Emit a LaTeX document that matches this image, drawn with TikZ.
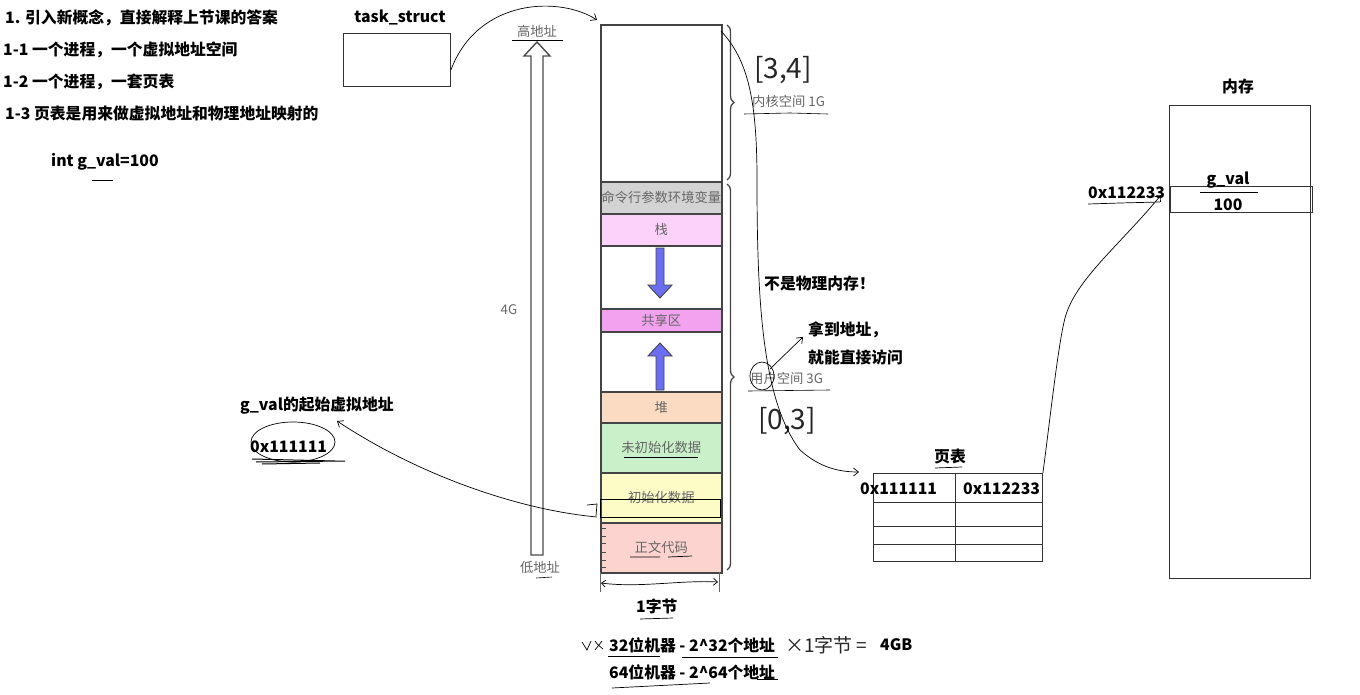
\documentclass[tikz,border=0pt]{standalone}
\usepackage{fontspec}
\setmainfont{Noto Sans CJK SC}
\usetikzlibrary{arrows.meta,decorations.pathreplacing,calc}
\definecolor{segline}{HTML}{444444}
\definecolor{cmdgray}{HTML}{D3D3D3}
\definecolor{stackpink}{HTML}{FCD2FA}
\definecolor{sharepink}{HTML}{F3A2F0}
\definecolor{heapc}{HTML}{FBDCC2}
\definecolor{uninitc}{HTML}{C9F0C9}
\definecolor{initc}{HTML}{FDFCC6}
\definecolor{textc}{HTML}{FDD3CF}
\definecolor{bluearr}{HTML}{6B6EF2}
\definecolor{graytxt}{HTML}{666666}
\begin{document}
\begin{tikzpicture}[x=1pt,y=-1pt,
  btxt/.style={font=\bfseries\fontsize{15.8}{18}\selectfont, inner sep=0pt, anchor=west},
  gtxt/.style={font=\fontsize{13.3}{15}\selectfont, text=graytxt, inner sep=0pt},
  seg/.style={draw=segline, line width=1.6pt, minimum width=121pt, anchor=north west, inner sep=0pt,
              font=\fontsize{13.3}{15}\selectfont, text=graytxt},
  hand/.style={line width=0.7pt, black},
  handarr/.style={line width=0.7pt, black, -{Straight Barb[length=5pt,width=8pt]}},
  htxt/.style={font=\fontsize{28}{30}\selectfont, inner sep=0pt, text=black!85},
  brace/.style={decorate, decoration={brace, amplitude=7pt}, line width=1.3pt, segline},
  box/.style={draw=black!80, line width=0.9pt, anchor=north west, inner sep=0pt}
]
\useasboundingbox[fill=white] (0,0) rectangle (1360,695);

% top-left texts
\node[btxt] (t1) at (5,18) {1. 引入新概念，直接解释上节课的答案};
\node[btxt] (t2) at (3,50) {1-1 一个进程，一个虚拟地址空间};
\node[btxt] (t3) at (3,82) {1-2 一个进程，一套页表};
\node[btxt] (t4) at (5,114) {1-3 页表是用来做虚拟地址和物理地址映射的};
\node[btxt] (t5) at (51,162) {int g\_val=100};
\draw[hand] (92,180) -- (113,180);

% task_struct
\node[btxt, anchor=center] (tsl) at (400,17) {task\_struct};
\node[box, minimum width=107pt, minimum height=53pt] (ts) at (343,33) {};

% column
\node[seg, minimum height=157pt] (kern) at (600,24) {};
\node[seg, minimum height=32pt, fill=cmdgray] (cmd) at (600,181) {命令行参数环境变量};
\node[seg, minimum height=32pt, fill=stackpink] (stk) at (600,213) {栈};
\node[seg, minimum height=63pt] (gap1) at (600,245) {};
\node[seg, minimum height=23pt, fill=sharepink] (shr) at (600,308) {共享区};
\node[seg, minimum height=60pt] (gap2) at (600,331) {};
\node[seg, minimum height=31pt, fill=heapc] (heap) at (600,391) {堆};
\node[seg, minimum height=50pt, fill=uninitc] (bss) at (600,422) {未初始化数据};
\node[seg, minimum height=50pt, fill=initc] (data) at (600,472) {初始化数据};
\node[seg, minimum height=50pt, fill=textc] (code) at (600,522) {正文代码};
\draw[line width=0.9pt, black] (600,499) rectangle (720,517);
\foreach \yy in {528,536,543,552,560,567} \draw[line width=0.5pt, black!70] (601,\yy) -- (606,\yy);
\draw[hand] (624,457) -- (698,457);
\draw[hand] (630,557) -- (660,557) (668,557) -- (692,556);

% blue arrows
\draw[fill=bluearr, draw=segline, line width=0.9pt] (656,248) -- (664,248) -- (664,285) -- (672,285) -- (660,298) -- (648,285) -- (656,285) -- cycle;
\draw[fill=bluearr, draw=segline, line width=0.9pt] (656,390) -- (664,390) -- (664,356) -- (672,356) -- (660,343) -- (648,356) -- (656,356) -- cycle;

% hollow address arrow
\draw[line width=1.4pt, black!70, fill=white] (531,555) -- (531,56) -- (524,56) -- (537,42) -- (550,56) -- (543,56) -- (543,555) -- cycle;
\node[gtxt] (hi) at (537,31) {高地址};
\draw[line width=0.6pt, black] (512,40) -- (563,40);
\node[gtxt] (lo) at (540,567) {低地址};
\draw[line width=0.6pt, black] (536,578) -- (552,577);
\node[gtxt] (g4) at (509,310) {4G};

% braces
\draw[brace] (727,25) -- (727,180);
\draw[brace] (727,184) -- (727,570);
\node[gtxt, anchor=west] (kl) at (752,101) {内核空间 1G};
\draw[line width=0.6pt, black] (744,114) -- (790,113) -- (828,114);
\node[gtxt, anchor=west] (ul) at (750,378) {用户空间 3G};
\draw[line width=0.6pt, black] (748,391) -- (830,390);
\draw[hand] (762,376) ellipse [x radius=12, y radius=14];

% handwritten ranges
\node[htxt] (r34) at (783,70) {[3,4]};
\node[htxt] (r03) at (787,421) {[0,3]};

% right-side notes
\node[btxt] (np) at (764,284) {不是物理内存！};
\node[btxt] (n1) at (808,330) {拿到地址，};
\node[btxt] (n2) at (808,357) {就能直接访问};
\coordinate (ua) at (770,369);
\coordinate (ub) at (803,337);
\draw[handarr] (ua) -- (ub);

% below column
\draw[line width=0.5pt, black!60] (600,572) -- (600,592) (719,572) -- (719,592);
\coordinate (wl) at (601,583);
\coordinate (wr) at (718,582);
\draw[hand, {Straight Barb[length=4pt,width=7pt]}-{Straight Barb[length=4pt,width=7pt]}] (wl) .. controls (640,588) and (680,580) .. (wr);
\node[btxt] (b1) at (636,606) {1字节};
\draw[hand] (640,619) -- (673,618);
\node[btxt] (l32) at (609,645) {32位机器 - 2\textasciicircum32个地址};
\node[btxt] (l64) at (609,672) {64位机器 - 2\textasciicircum64个地址};
\draw[hand] (608,656) -- (660,656);
\draw[hand] (682,657) -- (778,657);
\draw[hand] (757,679) -- (778,679);
\draw[hand] (612,688) -- (710,683);
\draw[hand] (582,642) -- (587,650) -- (591,641);
\draw[hand] (595,641) .. controls (598,645) .. (603,649) (595,650) -- (602,641);
\node[font=\fontsize{19}{21}\selectfont, inner sep=0pt, anchor=west, text=black!85] (hw) at (785,645) {×1字节 =};
\node[btxt] (g4b) at (880,645) {4GB};

% left g_val
\node[btxt] (gl) at (240,406) {g\_val的起始虚拟地址};
\node[btxt] (ga) at (250,447) {0x111111};
\draw[hand] (293,442) ellipse [x radius=42, y radius=20];
\draw[line width=1pt, black] (252,459) -- (335,461) (256,462) -- (345,461) (262,464) -- (320,463);
\coordinate (hk) at (597,517);
\coordinate (gt) at (337,421);
\draw[hand] (587,505) -- (597,504) -- (596,516);
\draw[handarr] (hk) .. controls (520,510) and (420,476) .. (gt);

% task_struct arrow
\draw[handarr] ([yshift=-10pt]ts.east) .. controls (478,-2) and (560,-4) .. ([xshift=-3pt,yshift=4pt]kern.north west);

% page table
\node[btxt, anchor=center] (ptl) at (950,457) {页表};
\draw[hand] (935,468) -- (962,467);
\node[box, minimum width=169pt, minimum height=88pt] (pt) at (873,473) {};
\draw[line width=0.9pt, black!80] (873,502) -- (1042,502) (873,526) -- (1042,526) (873,544) -- (1042,544) (955,473) -- (955,561);
\node[btxt] (pv) at (860,489) {0x111111};
\node[btxt] (pp) at (963,489) {0x112233};

% long curve virtual -> page table
\coordinate (ks) at (721,31);
\coordinate (pe) at (859,472);
\draw[handarr] (ks) .. controls (748,60) and (757,100) .. (757,180) .. controls (757,300) and (762,400) .. (800,450) .. controls (820,468) and (840,472) .. (pe);

% memory
\node[btxt, anchor=center] (meml) at (1238,87) {内存};
\node[box, minimum width=141pt, minimum height=473pt] (mem) at (1169,105) {};
\node[box, minimum width=142pt, minimum height=26pt] (cell) at (1170,186) {};
\node[btxt, anchor=center] (gv) at (1228,180) {g\_val};
\draw[hand] (1200,192) -- (1258,192);
\node[btxt, anchor=center] (hv) at (1228,205) {100};
\node[btxt] (pa) at (1088,193) {0x112233};
\draw[hand] (1088,204) -- (1120,203) -- (1160,202);
\coordinate (mt) at (1161,195);
\draw[handarr] (pt.north east) .. controls (1050,420) and (1058,345) .. (1065,318) .. controls (1075,280) and (1120,245) .. (mt);
\end{tikzpicture}
\end{document}
